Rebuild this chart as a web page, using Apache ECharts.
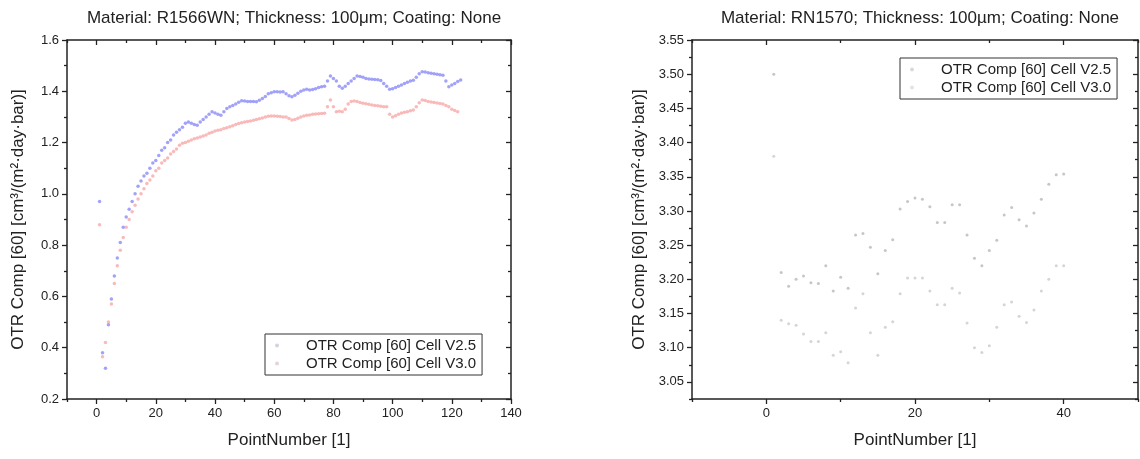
<!DOCTYPE html>
<html>
<head>
<meta charset="utf-8">
<script src="https://cdn.jsdelivr.net/npm/echarts@6/dist/echarts.min.js"></script>
<style>
  html, body { margin: 0; padding: 0; background: #fff; }
  #chart { width: 1140px; height: 459px; }
</style>
</head>
<body>
<div id="chart"></div>
<script>
// left panel: R1566WN, values per point number (1, 2, 3, ...)
var leftV25 = [0.97, 0.38, 0.32, 0.49, 0.59, 0.68, 0.75, 0.81, 0.87, 0.91,
  0.94, 0.97, 1.00, 1.03, 1.05, 1.07, 1.08, 1.10, 1.12, 1.13,
  1.15, 1.17, 1.18, 1.20, 1.21, 1.23, 1.24, 1.25, 1.26, 1.275,
  1.28, 1.275, 1.27, 1.268, 1.28, 1.29, 1.30, 1.31, 1.32, 1.315,
  1.31, 1.307, 1.32, 1.333, 1.34, 1.345, 1.35, 1.357, 1.363, 1.362,
  1.36, 1.36, 1.36, 1.359, 1.365, 1.372, 1.38, 1.39, 1.394, 1.398,
  1.398, 1.397, 1.398, 1.39, 1.383, 1.379, 1.385, 1.392, 1.40, 1.405,
  1.408, 1.405, 1.407, 1.41, 1.415, 1.418, 1.42, 1.44, 1.46, 1.45,
  1.44, 1.42, 1.412, 1.42, 1.43, 1.44, 1.45, 1.46, 1.458, 1.455,
  1.45, 1.448, 1.447, 1.446, 1.445, 1.442, 1.43, 1.42, 1.408, 1.41,
  1.415, 1.42, 1.425, 1.43, 1.435, 1.44, 1.443, 1.455, 1.468, 1.476,
  1.475, 1.472, 1.47, 1.468, 1.466, 1.464, 1.463, 1.44, 1.418, 1.425,
  1.43, 1.438, 1.444];
var leftV30 = [0.88, 0.365, 0.42, 0.50, 0.57, 0.65, 0.72, 0.78, 0.83, 0.87,
  0.90, 0.93, 0.956, 0.98, 1.00, 1.02, 1.04, 1.054, 1.07, 1.09,
  1.10, 1.12, 1.13, 1.14, 1.155, 1.165, 1.175, 1.19, 1.197, 1.20,
  1.205, 1.21, 1.215, 1.218, 1.222, 1.226, 1.23, 1.236, 1.24, 1.245,
  1.248, 1.25, 1.255, 1.258, 1.262, 1.266, 1.27, 1.274, 1.277, 1.28,
  1.282, 1.284, 1.287, 1.29, 1.293, 1.296, 1.30, 1.303, 1.304, 1.304,
  1.303, 1.302, 1.30, 1.30, 1.294, 1.288, 1.29, 1.295, 1.30, 1.304,
  1.307, 1.308, 1.31, 1.311, 1.312, 1.313, 1.314, 1.34, 1.366, 1.34,
  1.32, 1.322, 1.32, 1.33, 1.35, 1.36, 1.362, 1.36, 1.356, 1.353,
  1.351, 1.349, 1.347, 1.345, 1.344, 1.342, 1.34, 1.34, 1.31, 1.30,
  1.305, 1.31, 1.315, 1.318, 1.32, 1.324, 1.327, 1.34, 1.355, 1.366,
  1.364, 1.36, 1.358, 1.356, 1.354, 1.352, 1.35, 1.345, 1.34, 1.33,
  1.325, 1.32];

// right panel: RN1570
var rightV25 = [3.50, 3.21, 3.19, 3.20, 3.205, 3.195, 3.194, 3.22, 3.183, 3.203,
  3.187, 3.265, 3.267, 3.247, 3.208, 3.242, 3.258, 3.303, 3.314, 3.319,
  3.317, 3.306, 3.283, 3.283, 3.309, 3.309, 3.265, 3.231, 3.22, 3.242,
  3.257, 3.294, 3.305, 3.287, 3.278, 3.297, 3.317, 3.339, 3.353, 3.354];
var rightV30 = [3.38, 3.14, 3.135, 3.133, 3.12, 3.109, 3.109, 3.122, 3.089, 3.094,
  3.078, 3.158, 3.179, 3.122, 3.089, 3.13, 3.138, 3.179, 3.202, 3.202,
  3.202, 3.183, 3.163, 3.163, 3.187, 3.18, 3.136, 3.10, 3.093, 3.103,
  3.13, 3.163, 3.167, 3.146, 3.137, 3.155, 3.183, 3.20, 3.22, 3.22];

var seriesNames = ['OTR Comp [60] Cell V2.5', 'OTR Comp [60] Cell V3.0'];
var titles = ['Material: R1566WN; Thickness: 100μm; Coating: None',
  'Material: RN1570; Thickness: 100µm; Coating: None'];
var xName = 'PointNumber [1]';
var yName = 'OTR Comp [60] [cm³/(m²·day·bar)]';

var leftXTicks = [0, 20, 40, 60, 80, 100, 120, 140];
var leftYTicks = [0.2, 0.4, 0.6, 0.8, 1.0, 1.2, 1.4, 1.6];
var rightXTicks = [0, 20, 40];
var rightYTicks = [3.05, 3.10, 3.15, 3.20, 3.25, 3.30, 3.35, 3.40, 3.45, 3.50, 3.55];

var FONT = 'Liberation Sans, Arial, sans-serif';
var INK = '#222';

function toPoints(vals) {
  return vals.map(function (v, i) { return [i + 1, v]; });
}

// minor tick positions halfway between majors (plus one step outside each end)
function halves(major, min, max) {
  var step = major[1] - major[0], out = [];
  for (var i = -1; i < major.length; i++) {
    var m = (i < 0 ? major[0] - step : major[i]) + step / 2;
    if (m >= min - 1e-9 && m <= max + 1e-9) out.push(+m.toFixed(4));
  }
  return out;
}

// main axis with labels + outward ticks, a companion for minor ticks, and inward mirror axes
function axisSet(dim, grid, min, max, major, fmt, name, nameGap) {
  var minor = halves(major, min, max);
  var mainPos = dim === 'x' ? 'bottom' : 'left';
  var mirPos = dim === 'x' ? 'top' : 'right';
  var base = { type: 'value', gridIndex: grid, min: min, max: max, splitLine: { show: false } };
  var line = { show: true, onZero: false, lineStyle: { color: INK, width: 1.5 } };
  var noLine = { show: false, onZero: false };
  var tick = function (vals, len, inside) {
    return { show: true, customValues: vals, length: len, inside: inside, lineStyle: { color: INK, width: 1.3 } };
  };
  return [
    Object.assign({}, base, {
      position: mainPos, name: name, nameLocation: 'middle', nameGap: nameGap,
      nameTextStyle: { fontFamily: FONT, fontSize: 17, color: INK },
      axisLine: line, axisTick: tick(major, 5, false),
      axisLabel: { customValues: major, formatter: fmt, margin: 8, fontFamily: FONT, fontSize: 13, color: INK }
    }),
    Object.assign({}, base, { position: mainPos, axisLine: noLine, axisLabel: { show: false }, axisTick: tick(minor, 3, false) }),
    Object.assign({}, base, { position: mirPos, axisLine: line, axisLabel: { show: false }, axisTick: tick(major, 5, true) }),
    Object.assign({}, base, { position: mirPos, axisLine: noLine, axisLabel: { show: false }, axisTick: tick(minor, 3, true) })
  ];
}

function legendFor(left, top, colors) {
  return {
    orient: 'vertical', left: left, top: top,
    borderColor: '#333', borderWidth: 1, padding: [4, 6, 4, 10],
    itemGap: 3, itemWidth: 48, itemHeight: 4, icon: 'circle',
    textStyle: { fontFamily: FONT, fontSize: 15, color: INK },
    data: seriesNames.map(function (n, i) { return { name: n, itemStyle: { color: colors[i] } }; })
  };
}

function scatter(name, xi, yi, vals, color, size) {
  return {
    type: 'scatter', name: name, xAxisIndex: xi, yAxisIndex: yi,
    symbol: 'circle', symbolSize: size, itemStyle: { color: color },
    data: toPoints(vals)
  };
}

var chart = echarts.init(document.getElementById('chart'));
chart.setOption({
  animation: false,
  backgroundColor: '#fff',
  title: [
    { text: titles[0], left: 289, top: 5, textAlign: 'center', textStyle: { fontFamily: FONT, fontSize: 17, fontWeight: 'normal', color: INK } },
    { text: titles[1], left: 915, top: 5, textAlign: 'center', textStyle: { fontFamily: FONT, fontSize: 17, fontWeight: 'normal', color: INK } }
  ],
  grid: [
    { left: 67, top: 40, width: 444, height: 359, outerBoundsMode: 'none' },
    { left: 692, top: 40, width: 446, height: 359, outerBoundsMode: 'none' }
  ],
  xAxis: [].concat(
    axisSet('x', 0, -10, 140, leftXTicks, function (v) { return String(v); }, xName, 33),
    axisSet('x', 1, -10, 50, rightXTicks, function (v) { return String(v); }, xName, 33)
  ),
  yAxis: [].concat(
    axisSet('y', 0, 0.2, 1.6, leftYTicks, function (v) { return v.toFixed(1); }, yName, 40),
    axisSet('y', 1, 3.025, 3.55, rightYTicks, function (v) { return v.toFixed(2); }, yName, 44)
  ),
  legend: [
    legendFor(265, 334, ['#c8c8d8', '#e0c8c8']),
    legendFor(900, 58, ['#cfcfcf', '#dcdcdc'])
  ],
  series: [
    scatter(seriesNames[0], 0, 0, leftV25, 'rgba(110,110,245,0.8)', 3.5),
    scatter(seriesNames[1], 0, 0, leftV30, 'rgba(245,140,140,0.75)', 3.5),
    scatter(seriesNames[0], 4, 4, rightV25, '#b8b8b8', 3),
    scatter(seriesNames[1], 4, 4, rightV30, '#cacaca', 3)
  ]
});
</script>
</body>
</html>
